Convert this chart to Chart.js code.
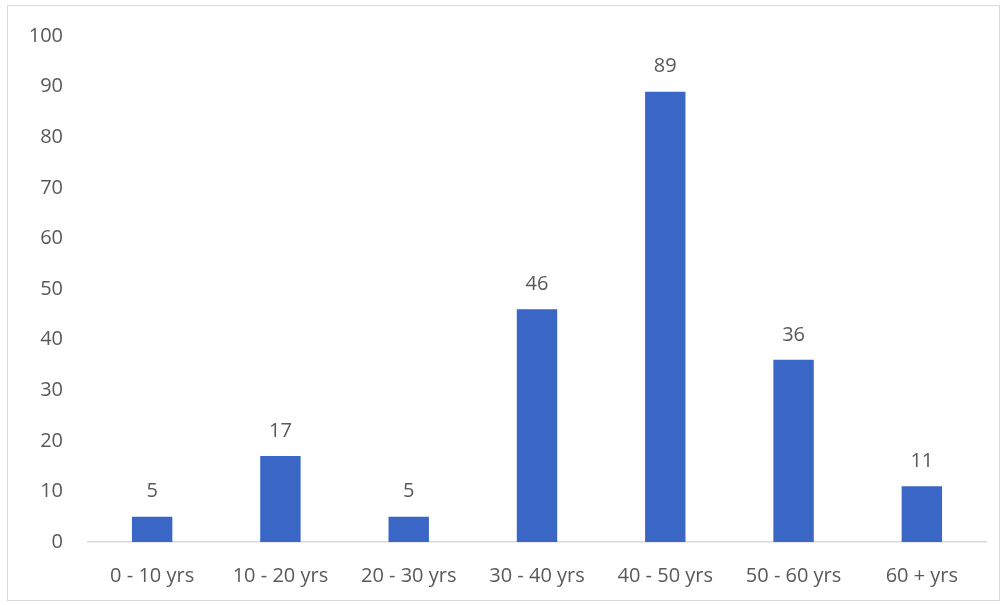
<!DOCTYPE html>
<html>
<head>
<meta charset="utf-8">
<script src="https://cdn.jsdelivr.net/npm/chart.js@4.4.0/dist/chart.umd.min.js"></script>
<style>
  html, body { margin: 0; padding: 0; background: #ffffff; }
  #wrap {
    position: absolute; left: 7px; top: 5px;
    width: 991px; height: 594px;
    border: 1px solid #d9d9d9;
  }
</style>
</head>
<body>
<div id="wrap"><canvas id="chart" width="991" height="594"></canvas></div>
<script>
// Age groups and counts
const categories = ['0 - 10 yrs', '10 - 20 yrs', '20 - 30 yrs', '30 - 40 yrs', '40 - 50 yrs', '50 - 60 yrs', '60 + yrs'];
const counts = [5, 17, 5, 46, 89, 36, 11];
const yTicks = [0, 10, 20, 30, 40, 50, 60, 70, 80, 90, 100];

const barColor = '#3a66c6';
const textColor = '#595959';
const fontFamily = '"Open Sans", "Liberation Sans", sans-serif';

// draw value labels above each bar
const valueLabels = {
    id: 'valueLabels',
    afterDatasetsDraw(chart) {
        const ctx = chart.ctx;
        const meta = chart.getDatasetMeta(0);
        ctx.save();
        ctx.fillStyle = textColor;
        ctx.font = '20px ' + fontFamily;
        ctx.textAlign = 'center';
        ctx.textBaseline = 'middle';
        meta.data.forEach((bar, i) => {
            ctx.fillText(String(counts[i]), bar.x, bar.y - 25);
        });
        ctx.restore();
    }
};

new Chart(document.getElementById('chart'), {
    type: 'bar',
    data: {
        labels: categories,
        datasets: [{
            data: counts,
            backgroundColor: barColor,
            borderWidth: 0,
            barPercentage: 0.63,
            categoryPercentage: 0.5
        }]
    },
    options: {
        responsive: false,
        animation: false,
        layout: { padding: { top: 0, right: 13, left: 0, bottom: 0 } },
        plugins: {
            legend: { display: false },
            tooltip: { enabled: false }
        },
        scales: {
            x: {
                afterFit(axis) { axis.height = 58; },
                grid: { display: false, drawTicks: false },
                border: { display: true, color: '#d9d9d9', width: 1.5 },
                ticks: {
                    color: textColor,
                    padding: 22,
                    maxRotation: 0,
                    font: { family: fontFamily, size: 20 }
                }
            },
            y: {
                min: 0,
                max: 100,
                afterBuildTicks(axis) {
                    axis.ticks = yTicks.map(v => ({ value: v }));
                },
                afterFit(axis) { axis.width = 80; axis.paddingTop = 30; },
                grid: { display: false, drawTicks: false },
                border: { display: false },
                ticks: {
                    color: textColor,
                    padding: 25,
                    font: { family: fontFamily, size: 20 }
                }
            }
        }
    },
    plugins: [valueLabels]
});
</script>
</body>
</html>
